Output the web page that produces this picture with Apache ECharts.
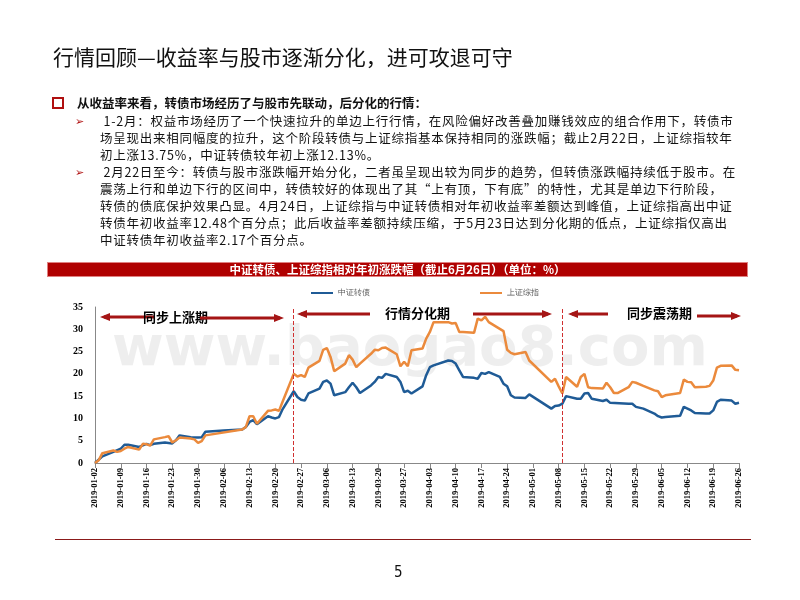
<!DOCTYPE html>
<html><head><meta charset="utf-8">
<script src="https://cdn.jsdelivr.net/npm/echarts@6/dist/echarts.min.js"></script>
<style>
body{margin:0;width:800px;height:600px;position:relative;background:#fff;font-family:"Noto Sans CJK SC",sans-serif;overflow:hidden}
#c{position:absolute;left:0;top:0;width:800px;height:600px}
.t{position:absolute;white-space:nowrap;color:#111}
</style></head><body>
<div id="c"></div>
<div class="t" style="left:53px;top:41px;font-size:21px;">行情回顾—收益率与股市逐渐分化，进可攻退可守</div>
<div class="t" style="left:52px;top:97px;width:8px;height:8px;border:2px solid #b01010;"></div>
<div class="t" style="left:77px;top:93px;font-size:12.5px;font-weight:bold;">从收益率来看，转债市场经历了与股市先联动，后分化的行情：</div>
<div class="t" style="left:75px;top:112px;font-size:11px;color:#b01010;line-height:17px">➢<br><br><br>➢</div>
<div class="t" style="left:100px;top:112px;font-size:12.5px;letter-spacing:0.75px;line-height:17px;">
&nbsp;1-2月：权益市场经历了一个快速拉升的单边上行行情，在风险偏好改善叠加赚钱效应的组合作用下，转债市<br>
场呈现出来相同幅度的拉升，这个阶段转债与上证综指基本保持相同的涨跌幅；截止2月22日，上证综指较年<br>
初上涨13.75%，中证转债较年初上涨12.13%。<br>
&nbsp;2月22日至今：转债与股市涨跌幅开始分化，二者虽呈现出较为同步的趋势，但转债涨跌幅持续低于股市。在<br>
震荡上行和单边下行的区间中，转债较好的体现出了其“上有顶，下有底”的特性，尤其是单边下行阶段，<br>
转债的债底保护效果凸显。4月24日，上证综指与中证转债相对年初收益率差额达到峰值，上证综指高出中证<br>
转债年初收益率12.48个百分点；此后收益率差额持续压缩，于5月23日达到分化期的低点，上证综指仅高出<br>
中证转债年初收益率2.17个百分点。</div>
<div class="t" style="left:47px;top:262px;width:699px;height:13px;background:#b00000;border:1px solid #e08080;color:#fff;font-size:11.5px;font-weight:bold;line-height:13px;text-align:center;">中证转债、上证综指相对年初涨跌幅（截止6月26日）（单位：%）</div>
<div class="t" style="left:55px;top:539px;width:696px;height:0;border-top:1.5px solid #8b1a1a;"></div>
<div class="t" style="left:394px;top:563px;font-size:15px;font-family:'DejaVu Sans Condensed',sans-serif;">5</div>
<script>
const seriesNames = ['中证转债', '上证综指'];
const tickLabelsY = [0, 5, 10, 15, 20, 25, 30, 35];
const periodLabels = ['同步上涨期', '行情分化期', '同步震荡期'];
const dividerDates = ['2019-02-25', '2019-05-09'];

const cbDates = ['01-02','01-04','01-07','01-09','01-10','01-11','01-14','01-16','01-17','01-18','01-21','01-23','01-24','01-25','01-28','01-30','01-31','02-01','02-06','02-11','02-12','02-13','02-14','02-15','02-18','02-19','02-20','02-21','02-22','02-25','02-26','02-27','02-28','03-01','03-04','03-05','03-06','03-07','03-08','03-11','03-12','03-13','03-14','03-15','03-18','03-19','03-20','03-21','03-22','03-25','03-26','03-27','03-28','03-29','04-01','04-02','04-03','04-04','04-08','04-09','04-10','04-11','04-12','04-15','04-16','04-17','04-18','04-19','04-22','04-23','04-24','04-25','04-26','04-29','04-30','05-06','05-07','05-08','05-09','05-10','05-13','05-14','05-15','05-16','05-17','05-20','05-21','05-22','05-27','05-28','05-29','05-31','06-03','06-04','06-05','06-06','06-10','06-11','06-12','06-13','06-14','06-17','06-18','06-19','06-20','06-21','06-24','06-25','06-26'];
const cbValues = [0,1.5,2.5,3.2,4.1,4.1,3.6,4.3,4.0,4.3,4.6,4.4,5.1,6.2,5.8,5.7,5.8,7.0,7.3,7.5,8.1,9.2,9.6,8.7,10.5,10.2,10.0,10.3,12.1,16.1,14.8,14.2,14.0,15.6,16.7,18.2,18.5,17.8,15.2,15.9,17.0,18.0,17.0,15.7,17.4,18.2,19.3,19.1,20.0,19.3,18.2,15.9,16.2,15.6,17.2,19.7,21.5,21.9,23.0,22.9,22.3,20.8,19.3,19.1,18.9,20.2,20.0,20.4,19.3,17.8,17.2,15.2,14.7,14.6,15.4,12.2,12.8,12.9,13.3,15.0,14.4,14.4,15.6,15.7,14.4,13.9,14.2,13.5,13.3,13.3,12.6,12.2,11.1,10.5,10.2,10.3,10.6,12.6,12.2,11.8,11.2,11.1,11.1,11.8,13.7,14.2,14.0,13.3,13.5];

const shDates = ['01-02','01-03','01-04','01-07','01-08','01-09','01-10','01-11','01-14','01-15','01-16','01-17','01-18','01-21','01-22','01-23','01-24','01-25','01-28','01-29','01-30','01-31','02-01','02-11','02-12','02-13','02-14','02-15','02-18','02-19','02-20','02-21','02-22','02-25','02-26','02-27','02-28','03-01','03-04','03-05','03-06','03-07','03-08','03-11','03-12','03-13','03-14','03-15','03-18','03-19','03-20','03-21','03-22','03-25','03-26','03-27','03-28','03-29','04-01','04-02','04-03','04-04','04-08','04-09','04-10','04-11','04-12','04-15','04-16','04-17','04-18','04-19','04-22','04-23','04-24','04-25','04-26','04-29','04-30','05-06','05-07','05-08','05-09','05-10','05-13','05-14','05-15','05-16','05-17','05-20','05-21','05-22','05-23','05-24','05-27','05-28','05-29','05-31','06-03','06-04','06-05','06-06','06-10','06-11','06-12','06-13','06-14','06-17','06-18','06-19','06-20','06-21','06-24','06-25','06-26'];
const shValues = [0,0.6,2.2,2.8,2.5,2.7,3.2,3.6,3.0,4.3,4.2,3.9,5.3,5.8,6.0,4.6,5.1,5.7,5.5,5.3,4.5,4.9,6.2,7.5,8.1,10.5,10.5,8.8,11.7,11.8,12.0,11.7,13.8,20.0,19.4,19.7,19.3,21.4,22.9,25.4,25.8,23.8,20.6,22.3,24.2,23.2,21.5,22.3,24.5,25.4,25.3,25.8,25.9,24.4,21.7,22.7,21.7,25.3,25.7,27.9,29.4,31.6,31.6,31.3,31.4,29.4,29.4,29.2,32.4,32.0,32.8,31.6,30.1,29.6,25.4,24.7,24.4,24.9,23.0,18.2,18.9,17.2,15.6,19.3,17.1,19.3,20.0,17.0,16.8,16.7,18.0,17.0,15.7,15.7,17.0,18.2,18.0,17.3,16.3,16.1,14.8,15.2,15.7,18.7,18.2,18.1,17.0,17.1,17.3,18.5,21.4,21.8,21.9,20.9,20.8];

const days = [];
for (let d = new Date(Date.UTC(2019,0,2)); d <= new Date(Date.UTC(2019,5,26)); d.setUTCDate(d.getUTCDate()+1)) {
  days.push(d.toISOString().slice(0,10));
}
function fill(dates, vals){
  const m = {}; dates.forEach((k,i)=>m['2019-'+k]=vals[i]);
  return days.map(k => (k in m) ? m[k] : null);
}

const chart = echarts.init(document.getElementById('c'));
const arrowColor = '#a51515';
function arrow(x1, x2, y, dir){
  const els = [{type:'line', shape:{x1, y1:y, x2, y2:y}, style:{stroke:arrowColor, lineWidth:3}}];
  if (dir==='L'||dir==='B') els.push({type:'polygon', shape:{points:[[x1-4,y],[x1+6,y-4],[x1+6,y+4]]}, style:{fill:arrowColor}});
  if (dir==='R'||dir==='B') els.push({type:'polygon', shape:{points:[[x2+4,y],[x2-6,y-4],[x2-6,y+4]]}, style:{fill:arrowColor}});
  return els;
}
const lbl = (x, y, t) => ({type:'text', x, y, style:{text:t, font:'bold 13px "Noto Sans CJK SC"', fill:'#000', textVerticalAlign:'middle'}});

chart.setOption({
  animation:false,
  color:['#1f5b96','#eb8a3c'],
  legend:{top:284, left:306, itemGap:110, itemWidth:22, itemHeight:2, icon:'rect',
    textStyle:{fontSize:8, color:'#555'}, data:seriesNames},
  grid:{left:95, right:61, top:307, bottom:137},
  xAxis:{type:'category', data:days, boundaryGap:false,
    axisLine:{lineStyle:{color:'#888'}},
    axisTick:{interval:6, lineStyle:{color:'#888'}},
    axisLabel:{interval:6, rotate:90, fontSize:8.5, fontWeight:'bold', fontFamily:'Liberation Serif', color:'#000', margin:5}},
  yAxis:{type:'value', min:0, max:35, interval:5,
    axisLine:{show:true, lineStyle:{color:'#888'}}, axisTick:{show:false}, splitLine:{show:false},
    axisLabel:{fontSize:10, fontWeight:'bold', fontFamily:'Liberation Serif', color:'#000', margin:12}},
  graphic:[
    {type:'text', left:112, top:322, z:-10, style:{text:'www.baogao8.com', font:'bold 56px "DejaVu Sans"', fill:'rgba(200,200,200,0.3)'}},
    ...arrow(104,155,317,'L'), lbl(143,317,periodLabels[0]), ...arrow(200,280,318,'R'),
    ...arrow(301,370,314,'L'), lbl(385,313,periodLabels[1]), ...arrow(473,548,314,'R'),
    ...arrow(572,608,314,'L'), lbl(627,313,periodLabels[2]), ...arrow(697,737,316,'R')
  ],
  series:[
    {name:seriesNames[0], type:'line', data:fill(cbDates, cbValues), connectNulls:true, showSymbol:false, lineStyle:{width:2.5},
      markLine:{silent:true, symbol:'none', label:{show:false}, lineStyle:{color:'#d03030', type:'dashed', width:1},
        data:dividerDates.map(d=>({xAxis:d}))}},
    {name:seriesNames[1], type:'line', data:fill(shDates, shValues), connectNulls:true, showSymbol:false, lineStyle:{width:2.5}}
  ]
});
</script>
</body></html>
